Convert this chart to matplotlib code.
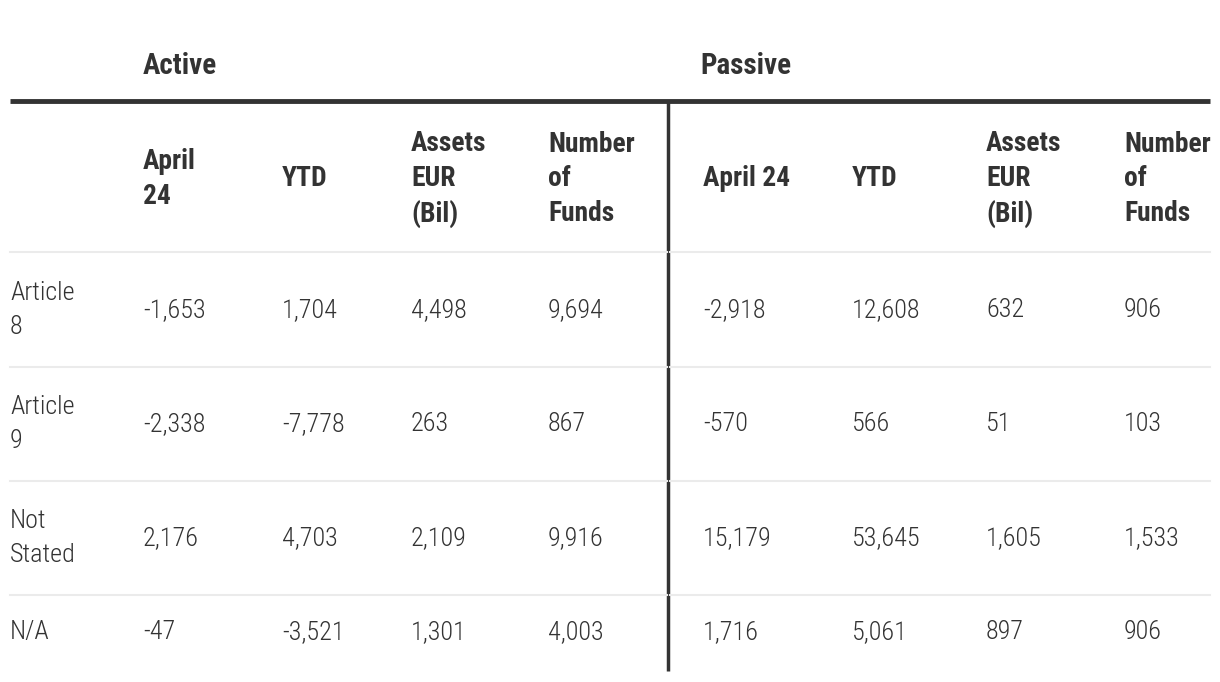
import matplotlib
matplotlib.use("Agg")
import matplotlib.pyplot as plt
from matplotlib import font_manager as fm

# --- Data ---
groups = ["Active", "Passive"]
col_headers_active = ["April\n24", "YTD", "Assets\nEUR\n(Bil)", "Number\nof\nFunds"]
col_headers_passive = ["April 24", "YTD", "Assets\nEUR\n(Bil)", "Number\nof\nFunds"]
row_labels = ["Article\n8", "Article\n9", "Not\nStated", "N/A"]
active_april = ["-1,653", "-2,338", "2,176", "-47"]
active_ytd = ["1,704", "-7,778", "4,703", "-3,521"]
active_assets = ["4,498", "263", "2,109", "1,301"]
active_funds = ["9,694", "867", "9,916", "4,003"]
passive_april = ["-2,918", "-570", "15,179", "1,716"]
passive_ytd = ["12,608", "566", "53,645", "5,061"]
passive_assets = ["632", "51", "1,605", "897"]
passive_funds = ["906", "103", "1,533", "906"]

# --- pick a condensed font if one is installed ---
names = sorted({f.name for f in fm.fontManager.ttflist})
font = "DejaVu Sans"
for cand in ["Roboto Condensed", "Liberation Sans Narrow", "Open Sans Condensed", "DejaVu Sans"]:
    if cand in names:
        font = cand
        break
light = "light" if font == "Roboto Condensed" else "normal"
stretch = "condensed" if font == "DejaVu Sans" else "normal"

ink = "#333333"
fig = plt.figure(figsize=(12.2, 6.82), dpi=100)
ax = fig.add_axes([0, 0, 1, 1])
ax.set_xlim(0, 1220)
ax.set_ylim(682, 0)
ax.axis("off")

col_x = [143, 282, 411, 548, 703, 852, 986, 1124]
row_y = [310, 424, 538, 632]
sep_y = [252, 367, 481, 595]

hdr = dict(fontsize=19.8, color=ink, fontweight="bold", family=font,
           fontstretch=stretch, va="center", ha="left", linespacing=1.38)
body = dict(fontsize=18.8, color=ink, fontweight=light, family=font,
            fontstretch=stretch, va="center", ha="left", linespacing=1.52)

ax.text(143, 66, groups[0], **dict(hdr, fontsize=21))
ax.text(700, 66, groups[1], **dict(hdr, fontsize=21))

ax.plot([10, 1210], [101, 101], color=ink, lw=3.5, solid_capstyle="butt")
ax.plot([668, 668], [101, 671], color=ink, lw=2.5, solid_capstyle="butt")
for y in sep_y:
    ax.plot([10, 667], [y, y], color="#ebebeb", lw=1.5)
    ax.plot([670, 1210], [y, y], color="#ebebeb", lw=1.5)

for x, h in zip(col_x, col_headers_active + col_headers_passive):
    ax.text(x, 179, h, **hdr)

columns = [active_april, active_ytd, active_assets, active_funds,
           passive_april, passive_ytd, passive_assets, passive_funds]
for i, y in enumerate(row_y):
    ax.text(10, y, row_labels[i], **body)
    for x, col in zip(col_x, columns):
        ax.text(x, y, col[i], **body)

fig.savefig("out.png", dpi=100)
